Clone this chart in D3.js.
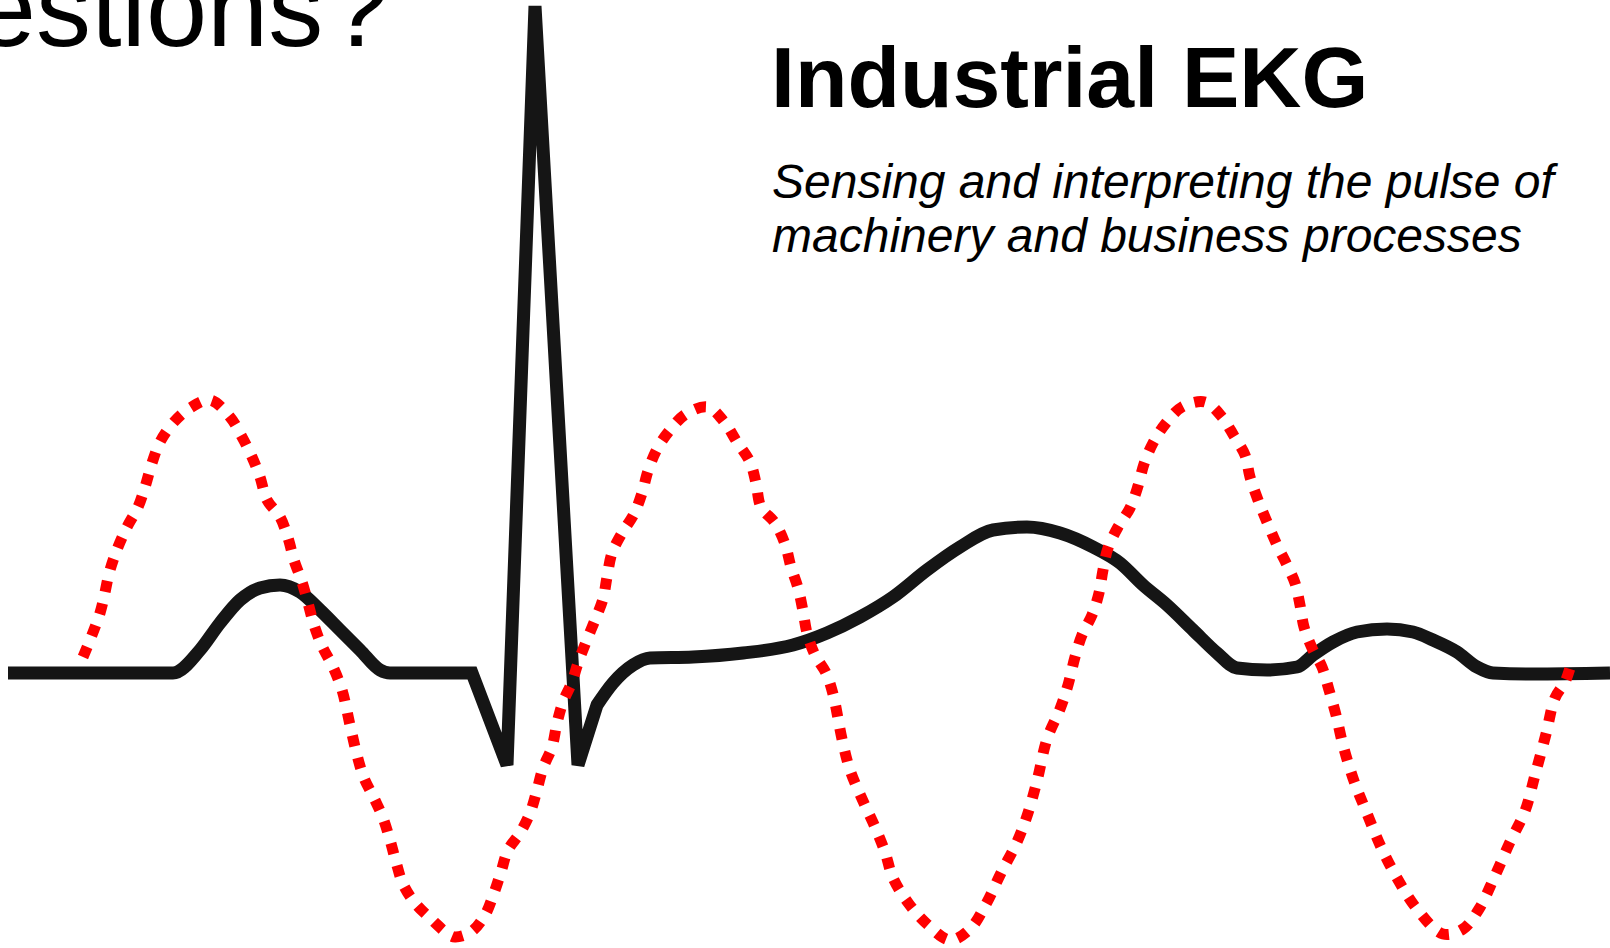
<!DOCTYPE html>
<html>
<head>
<meta charset="utf-8">
<script src="https://cdn.jsdelivr.net/npm/d3@7"></script>
<style>
  body { margin: 0; background: #fff; }
  svg { display: block; }
</style>
</head>
<body>
<div id="chart"></div>
<script>
const chart_width = 1610;
const chart_height = 948;

// time axis (x) and amplitude (y), amplitude 0 = baseline
const ekg_time = [8, 173, 200, 220, 240, 260, 280, 300, 320, 340, 360, 380, 390, 472, 507, 535, 578, 597, 613, 633, 650, 693, 743, 793, 827, 860, 893, 927, 960, 993, 1027, 1060, 1093, 1120, 1143, 1167, 1193, 1217, 1237, 1267, 1297, 1313, 1333, 1357, 1387, 1413, 1433, 1457, 1477, 1493, 1533, 1610];
const ekg_amp = [0, 0, 23, 50, 73, 85, 88, 81, 63, 43, 23, 3, 0, 0, -92, 667, -92, -32, -10, 8, 15, 16, 20, 28, 40, 56, 76, 103, 126, 143, 146, 140, 126, 110, 88, 68, 43, 20, 5, 3, 6, 18, 31, 41, 44, 41, 33, 21, 6, 0, -1, 0];
// index of Q, R and S in the ekg arrays
const qrs_index = [14, 15, 16];

const wave_time = [83, 100, 110, 118, 127, 138, 145, 152, 160, 173, 190, 210, 230, 242, 252, 260, 267, 280, 288, 294, 302, 308, 314, 322, 333, 342, 350, 357, 364, 374, 383, 390, 396, 403, 415, 431, 448, 455, 471, 485, 494, 501, 508, 520, 530, 537, 543, 552, 557, 563, 572, 578, 586, 595, 603, 607, 612, 622, 634, 642, 648, 657, 670, 686, 708, 725, 737, 750, 756, 761, 775, 785, 791, 798, 803, 807, 815, 826, 833, 842, 850, 863, 875, 885, 893, 909, 927, 950, 970, 986, 1001, 1017, 1027, 1037, 1047, 1060, 1068, 1075, 1082, 1092, 1099, 1103, 1108, 1118, 1130, 1138, 1144, 1153, 1166, 1182, 1205, 1222, 1234, 1245, 1250, 1258, 1267, 1277, 1287, 1295, 1300, 1304, 1312, 1322, 1329, 1336, 1343, 1354, 1366, 1381, 1397, 1417, 1443, 1463, 1479, 1494, 1510, 1525, 1535, 1546, 1555, 1565, 1570];
const wave_amp = [16, 60, 103, 126, 146, 166, 186, 210, 231, 250, 265, 273, 256, 236, 216, 196, 173, 156, 135, 113, 91, 70, 48, 27, 6, -17, -52, -82, -105, -125, -145, -167, -189, -211, -230, -246, -261, -264, -259, -242, -220, -199, -177, -160, -140, -117, -95, -74, -50, -29, -9, 10, 31, 53, 74, 96, 120, 140, 159, 180, 202, 224, 243, 259, 266, 250, 231, 211, 190, 166, 150, 129, 106, 85, 62, 40, 18, 0, -21, -66, -97, -128, -154, -179, -205, -231, -251, -267, -256, -231, -200, -169, -143, -108, -66, -36, -12, 16, 38, 58, 80, 103, 125, 146, 165, 187, 209, 230, 250, 266, 271, 256, 237, 218, 196, 173, 151, 128, 108, 90, 68, 46, 25, 6, -17, -42, -72, -108, -138, -174, -205, -236, -261, -256, -236, -205, -169, -138, -102, -61, -25, -9, 5];

const question_text = 'Questions ?';
const title_text = 'Industrial EKG';
const subtitle_lines = ['Sensing and interpreting the pulse of', 'machinery and business processes'];

const ekg = ekg_time.map((t, i) => ({ t: t, v: ekg_amp[i] }));
const wave = wave_time.map((t, i) => ({ t: t, v: wave_amp[i] }));

//--------------------------------------------------------------------
// create svg element
const svg = d3.select('#chart')
    .append('svg')
    .attr('width', chart_width)
    .attr('height', chart_height);

svg.append('rect')
    .attr('width', chart_width)
    .attr('height', chart_height)
    .attr('fill', '#fff');

//--------------------------------------------------------------------
// scales
const x_scale = d3.scaleLinear()
    .domain([0, 1610])
    .range([0, chart_width]);

const y_scale = d3.scaleLinear()
    .domain([-275, 673])
    .range([chart_height, 0]);

//--------------------------------------------------------------------
// lines
const smooth_line = d3.line()
    .x(d => x_scale(d.t))
    .y(d => y_scale(d.v))
    .curve(d3.curveMonotoneX);

const sharp_line = d3.line()
    .x(d => x_scale(d.t))
    .y(d => y_scale(d.v))
    .curve(d3.curveLinear);

const wave_line = d3.line()
    .x(d => x_scale(d.t))
    .y(d => y_scale(d.v))
    .curve(d3.curveCatmullRom.alpha(0.5));

// smooth P wave, sharp QRS spike, smooth rest -> stitched into one path
const part1 = smooth_line(ekg.slice(0, qrs_index[0]));
const part2 = sharp_line(ekg.slice(qrs_index[0] - 1, qrs_index[2] + 2));
const part3 = smooth_line(ekg.slice(qrs_index[2] + 1));
// drop the leading move-to of the later parts so the stroke is continuous
const strip_move = s => s.replace(/^M[^A-Za-z]*/, '');
const ekg_d = part1 + strip_move(part2) + strip_move(part3);

svg.append('path')
    .attr('d', ekg_d)
    .attr('fill', 'none')
    .attr('stroke', '#151515')
    .attr('stroke-width', 13)
    .attr('stroke-linejoin', 'miter')
    .attr('stroke-miterlimit', 4);

svg.append('path')
    .datum(wave)
    .attr('d', wave_line)
    .attr('fill', 'none')
    .attr('stroke', '#ff0000')
    .attr('stroke-width', 11)
    .attr('stroke-dasharray', '11,12');

//--------------------------------------------------------------------
// texts
svg.append('text')
    .text(question_text)
    .attr('x', 389)
    .attr('y', 46)
    .attr('text-anchor', 'end')
    .attr('font-family', 'Liberation Sans, Arial, sans-serif')
    .attr('font-size', 110)
    .attr('word-spacing', -26)
    .attr('fill', '#000');

svg.append('text')
    .text(title_text)
    .attr('x', 771)
    .attr('y', 107)
    .attr('font-family', 'Liberation Sans, Arial, sans-serif')
    .attr('font-weight', 'bold')
    .attr('font-size', 86)
    .attr('fill', '#000');

svg.append('g').selectAll('text')
    .data(subtitle_lines)
    .enter()
    .append('text')
    .text(d => d)
    .attr('x', 772)
    .attr('y', (d, i) => 198 + i * 54)
    .attr('font-family', 'Liberation Sans, Arial, sans-serif')
    .attr('font-style', 'italic')
    .attr('font-size', 48)
    .attr('fill', '#000');
</script>
</body>
</html>
